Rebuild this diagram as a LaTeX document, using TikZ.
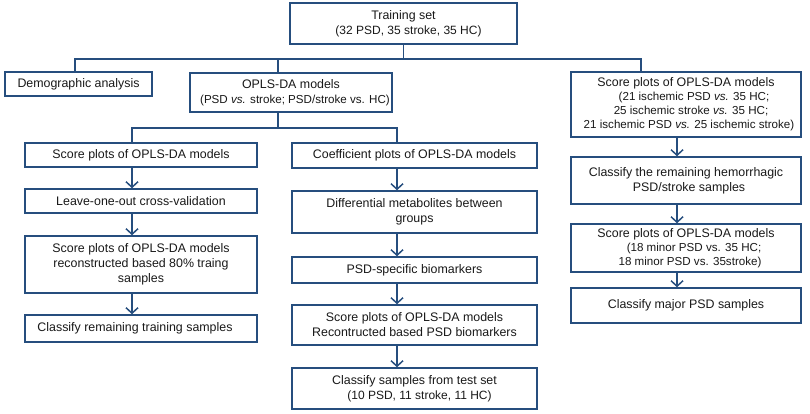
\documentclass[tikz,border=0pt]{standalone}
\usepackage{fontspec}
\setmainfont{Liberation Sans}
\usetikzlibrary{arrows.meta}
\definecolor{bcol}{RGB}{38,78,126}
\newcommand\subtxt{\fontsize{11.6}{14}\selectfont}
\newcommand\subtxtb{\fontsize{12}{14}\selectfont}
\tikzset{
  box/.style={draw=bcol, line width=1.5pt, fill=white, align=center, inner sep=0pt,
    font=\fontsize{12.4}{15}\selectfont, text=black!90},
  conn/.style={draw=bcol, line width=1.5pt},
  arr/.style={draw=bcol, line width=1.5pt, -{Straight Barb[length=5.5pt,width=12pt,line width=1.5pt]}}
}
\begin{document}
\begin{tikzpicture}[x=1pt,y=-1pt]
\useasboundingbox (0,0) rectangle (810,413);
\fill[white] (0,0) rectangle (810,413);

% top
\node[box, minimum width=227pt, minimum height=41pt] (train) at (403.5,23.5)
  {Training set\\[0pt]{\subtxtb\hspace*{10pt}(32 PSD, 35 stroke, 35 HC)}};
\node[box, minimum width=147pt, minimum height=24pt] (demo) at (78.5,84)
  {Demographic analysis};
\node[box, minimum width=202pt, minimum height=39pt] (opls) at (291,92.5)
  {OPLS-DA models\\[0pt]{\subtxt\hspace*{8pt}(PSD \textit{vs.} stroke; PSD/stroke vs. HC)}};
\node[box, minimum width=230pt, minimum height=65pt] (r1) at (686,104.5)
  {Score plots of OPLS-DA models\\[-1pt]
   {\subtxt\hspace*{16pt}(21 ischemic PSD \textit{vs.} 35 HC;}\\[-1pt]
   {\subtxt\hspace*{10pt}25 ischemic stroke \textit{vs.} 35 HC;}\\[-1pt]
   {\subtxt\hspace*{6pt}21 ischemic PSD \textit{vs.} 25 ischemic stroke)}};

% left column
\node[box, minimum width=232pt, minimum height=24pt] (l1) at (141,155)
  {Score plots of OPLS-DA models};
\node[box, minimum width=232pt, minimum height=24pt] (l2) at (141,201)
  {Leave-one-out cross-validation};
\node[box, minimum width=232pt, minimum height=57pt] (l3) at (141,264.5)
  {Score plots of OPLS-DA models\\reconstructed based 80\% traing\\samples};
\node[box, minimum width=232pt, minimum height=27pt] (l4) at (141,328.5)
  {Classify remaining training samples\hspace*{12pt}};

% middle column
\node[box, minimum width=245pt, minimum height=25pt] (m1) at (414.5,155.5)
  {Coefficient plots of OPLS-DA models};
\node[box, minimum width=245pt, minimum height=42pt] (m2) at (414.5,212)
  {Differential metabolites between\\groups};
\node[box, minimum width=245pt, minimum height=26pt] (m3) at (414.5,270)
  {PSD-specific biomarkers};
\node[box, minimum width=245pt, minimum height=40pt] (m4) at (414.5,325)
  {Score plots of OPLS-DA models\\Recontructed based PSD biomarkers};
\node[box, minimum width=245pt, minimum height=41pt] (m5) at (414.5,388.5)
  {Classify samples from test set\\[0pt]{\subtxtb\hspace*{10pt}(10 PSD, 11 stroke, 11 HC)}};

% right column
\node[box, minimum width=230pt, minimum height=47pt] (r2) at (686,180.5)
  {Classify the remaining hemorrhagic\\\hspace*{6pt}PSD/stroke samples};
\node[box, minimum width=230pt, minimum height=48pt] (r3) at (686,248)
  {Score plots of OPLS-DA models\\[-1pt]
   {\subtxt\hspace*{16pt}(18 minor PSD vs. 35 HC;}\\[-1pt]
   {\subtxt\hspace*{8pt}18 minor PSD vs. 35stroke)}};
\node[box, minimum width=230pt, minimum height=35pt] (r4) at (686,305.5)
  {Classify major PSD samples};

% connector coordinates
\coordinate (tA) at (75,59);
\coordinate (tB) at (641,59);
\coordinate (oX) at (278,0);
\coordinate (sA) at (132,128);
\coordinate (sB) at (397,128);
\coordinate (rX) at (677,0);

% tree connectors
\draw[conn] (train.south) -- (train.south |- tA);
\draw[conn] (tA |- demo.north) -- (tA) -- (tB) -- (tB |- r1.north);
\draw[conn] (oX |- opls.north) -- (oX |- tA);
\draw[conn] (oX |- opls.south) -- (oX |- sA);
\draw[conn] (sA |- l1.north) -- (sA) -- (sB) -- (sB |- m1.north);

% arrows left
\draw[arr] (sA |- l1.south) -- (sA |- l2.north);
\draw[arr] (sA |- l2.south) -- (sA |- l3.north);
\draw[arr] (sA |- l3.south) -- (sA |- l4.north);
% arrows middle
\draw[arr] (sB |- m1.south) -- (sB |- m2.north);
\draw[arr] (sB |- m2.south) -- (sB |- m3.north);
\draw[arr] (sB |- m3.south) -- (sB |- m4.north);
\draw[arr] (sB |- m4.south) -- (sB |- m5.north);
% arrows right
\draw[arr] (rX |- r1.south) -- (rX |- r2.north);
\draw[arr] (rX |- r2.south) -- (rX |- r3.north);
\draw[arr] (rX |- r3.south) -- (rX |- r4.north);
\end{tikzpicture}
\end{document}
